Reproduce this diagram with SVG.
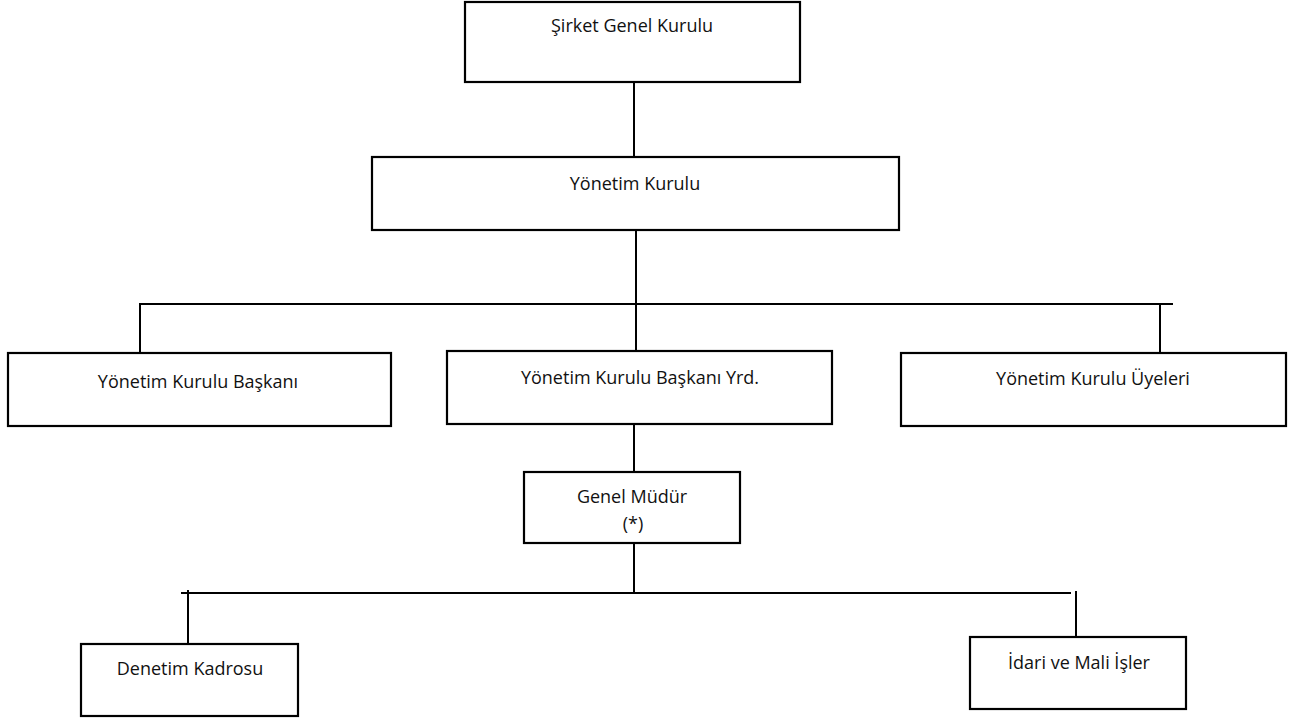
<svg xmlns="http://www.w3.org/2000/svg" width="1292" height="719" viewBox="0 0 1292 719">
<style>
.box{fill:#fff;stroke:#000;stroke-width:2.2}
.lbl{font-family:"Open Sans","Liberation Sans",sans-serif;font-size:18px;fill:#111;text-anchor:middle}
.conn line{stroke:#000;stroke-width:2}
</style>
<rect width="1292" height="719" fill="#fff"/>
<g class="conn" id="connectors">
<line x1="634" y1="82" x2="634" y2="157"/>
<line x1="636" y1="230" x2="636" y2="304"/>
<line x1="139" y1="304" x2="1173" y2="304"/>
<line x1="140" y1="304" x2="140" y2="353"/>
<line x1="636" y1="304" x2="636" y2="351"/>
<line x1="1160" y1="304" x2="1160" y2="353"/>
<line x1="634" y1="424" x2="634" y2="472"/>
<line x1="634" y1="543" x2="634" y2="593"/>
<line x1="181" y1="593" x2="1071" y2="593"/>
<line x1="188" y1="590" x2="188" y2="644"/>
<line x1="1076" y1="591" x2="1076" y2="637"/>
</g>
<g id="sirket-genel-kurulu"><rect class="box" x="465" y="2" width="335" height="80"/><text class="lbl" x="632" y="32">Şirket Genel Kurulu</text></g>
<g id="yonetim-kurulu"><rect class="box" x="372" y="157" width="527" height="73"/><text class="lbl" x="635" y="190">Yönetim Kurulu</text></g>
<g id="yk-baskani"><rect class="box" x="8" y="353" width="383" height="73"/><text class="lbl" x="198" y="388">Yönetim Kurulu Başkanı</text></g>
<g id="yk-baskani-yrd"><rect class="box" x="447" y="351" width="385" height="73"/><text class="lbl" x="640" y="384">Yönetim Kurulu Başkanı Yrd.</text></g>
<g id="yk-uyeleri"><rect class="box" x="901" y="353" width="385" height="73"/><text class="lbl" x="1093" y="385">Yönetim Kurulu Üyeleri</text></g>
<g id="genel-mudur"><rect class="box" x="524" y="472" width="216" height="71"/><text class="lbl" x="632" y="503">Genel Müdür</text><text class="lbl" x="633" y="530">(*)</text></g>
<g id="denetim-kadrosu"><rect class="box" x="81" y="644" width="217" height="72"/><text class="lbl" x="190" y="675">Denetim Kadrosu</text></g>
<g id="idari-mali-isler"><rect class="box" x="970" y="637" width="216" height="72"/><text class="lbl" x="1079" y="669">İdari ve Mali İşler</text></g>
</svg>
